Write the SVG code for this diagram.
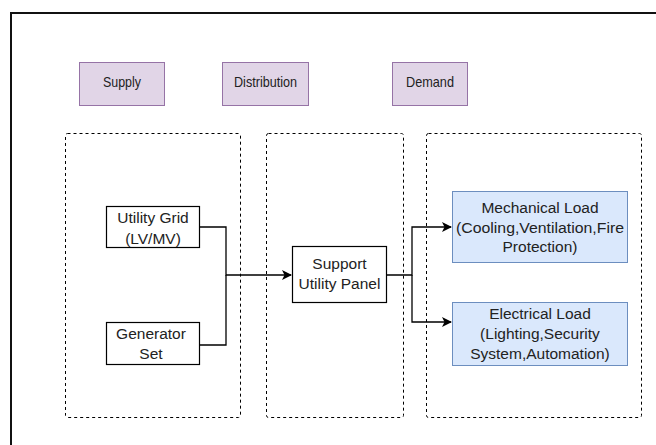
<svg xmlns="http://www.w3.org/2000/svg" width="656" height="445" viewBox="0 0 656 445">
<defs>
<style>
.t{font-family:"Liberation Sans",Arial,sans-serif;fill:#222;text-anchor:middle}
.h{font-size:15px}
.b{font-size:15.5px}
.hdr{fill:#e1d5e7;stroke:#9673a6;stroke-width:1}
.blue{fill:#dae8fc;stroke:#6c8ebf;stroke-width:1}
.plain{fill:#fff;stroke:#000;stroke-width:1.2}
.grp{fill:none;stroke:#000;stroke-width:1;stroke-dasharray:3 3}
.e{fill:none;stroke:#000;stroke-width:1.3}
</style>
<marker id="arr" viewBox="0 0 10 10" refX="9" refY="5" markerWidth="10" markerHeight="10" markerUnits="userSpaceOnUse" orient="auto">
<path d="M0,0 L10,5 L0,10 L2.5,5 Z" fill="#000"/>
</marker>
</defs>
<rect x="0" y="0" width="656" height="445" fill="#fff"/>
<rect id="frame" x="11" y="13" width="700" height="500" fill="none" stroke="#111" stroke-width="2"/>

<g id="supply-group"><rect class="grp" x="65.5" y="133.5" width="175" height="284" rx="2"/></g>
<g id="distribution-group"><rect class="grp" x="266.5" y="133.5" width="137" height="284" rx="2"/></g>
<g id="demand-group"><rect class="grp" x="426.5" y="133.5" width="215" height="284" rx="2"/></g>

<g id="hdr-supply"><rect class="hdr" x="79.5" y="62.5" width="85" height="43"/><text class="t h" x="122" y="87" textLength="38" lengthAdjust="spacingAndGlyphs">Supply</text></g>
<g id="hdr-distribution"><rect class="hdr" x="222.5" y="62.5" width="86" height="43"/><text class="t h" x="265.5" y="87" textLength="63" lengthAdjust="spacingAndGlyphs">Distribution</text></g>
<g id="hdr-demand"><rect class="hdr" x="392.5" y="62.5" width="75" height="43"/><text class="t h" x="430" y="87" textLength="48" lengthAdjust="spacingAndGlyphs">Demand</text></g>

<g id="connectors">
<polyline class="e" points="199,227 226,227 226,275 291,275" marker-end="url(#arr)"/>
<polyline class="e" points="199,345 226,345 226,275"/>
<polyline class="e" points="386,275 412,275 412,227 451,227" marker-end="url(#arr)"/>
<polyline class="e" points="412,275 412,322 451,322" marker-end="url(#arr)"/>
</g>

<g id="utility-grid"><rect class="plain" x="106.5" y="206.5" width="93" height="41"/>
<text class="t b" x="153" y="223">Utility Grid</text><text class="t b" x="153" y="244">(LV/MV)</text></g>
<g id="generator-set"><rect class="plain" x="106.5" y="322.5" width="93" height="42"/>
<text class="t b" x="151" y="338.5">Generator</text><text class="t b" x="151" y="359">Set</text></g>
<g id="support-panel"><rect class="plain" x="292.5" y="246.5" width="94" height="56"/>
<text class="t b" x="339.5" y="268.5">Support</text><text class="t b" x="339.5" y="288.5">Utility Panel</text></g>
<g id="mechanical-load"><rect class="blue" x="452.5" y="191.5" width="175" height="71"/>
<text class="t b" x="540" y="212.5">Mechanical Load</text><text class="t b" x="540" y="233" textLength="168" lengthAdjust="spacingAndGlyphs">(Cooling,Ventilation,Fire</text><text class="t b" x="540" y="252">Protection)</text></g>
<g id="electrical-load"><rect class="blue" x="452.5" y="302.5" width="175" height="63"/>
<text class="t b" x="540" y="319">Electrical Load</text><text class="t b" x="540" y="338.5">(Lighting,Security</text><text class="t b" x="540" y="359">System,Automation)</text></g>
</svg>
